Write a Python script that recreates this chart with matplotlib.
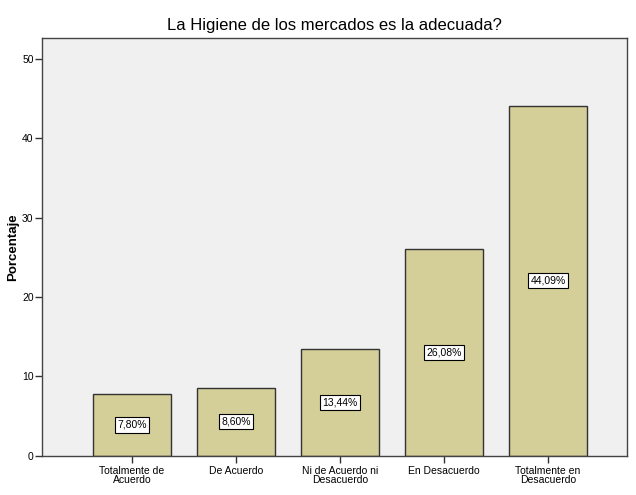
import numpy as np
import matplotlib
matplotlib.use('Agg')
import matplotlib.pyplot as plt

categories = ['Totalmente de\nAcuerdo', 'De Acuerdo', 'Ni de Acuerdo ni\nDesacuerdo',
              'En Desacuerdo', 'Totalmente en\nDesacuerdo']
values = [7.80, 8.60, 13.44, 26.08, 44.09]
labels = ['7,80%', '8,60%', '13,44%', '26,08%', '44,09%']

plt.rcParams['font.family'] = ['Liberation Sans', 'DejaVu Sans']

fig = plt.figure(figsize=(6.36, 4.95), dpi=100)
ax = fig.add_axes([0.066, 0.079, 0.92, 0.844])
ax.set_facecolor('#f0f0f0')
x = np.arange(len(values))
ax.bar(x, values, width=0.75, color='#d4cf98', edgecolor='#333333', linewidth=1.0)
for xi, v, lab in zip(x, values, labels):
    ax.text(xi, v / 2, lab, ha='center', va='center', fontsize=7.5,
            bbox=dict(boxstyle='square,pad=0.25', facecolor='white', edgecolor='black', linewidth=0.8))

ax.set_xlim(-0.865, 4.76)
ax.set_ylim(0, 52.6)
ax.set_yticks([0, 10, 20, 30, 40, 50])
ax.set_xticks(x)
ax.set_xticklabels(categories, fontsize=7.5, linespacing=0.9)
ax.tick_params(axis='y', labelsize=7.5, length=5, width=1, colors='#333333', labelcolor='black', pad=1)
ax.tick_params(axis='x', length=5, width=1, colors='#333333', labelcolor='black', pad=2)
for s in ax.spines.values():
    s.set_color('#444444')
    s.set_linewidth(1.0)
ax.set_ylabel('Porcentaje', fontsize=9.5, fontweight='bold', labelpad=2)
ax.set_title('La Higiene de los mercados es la adecuada?', fontsize=12, pad=6)

fig.savefig('out.png', dpi=100, facecolor='white')
